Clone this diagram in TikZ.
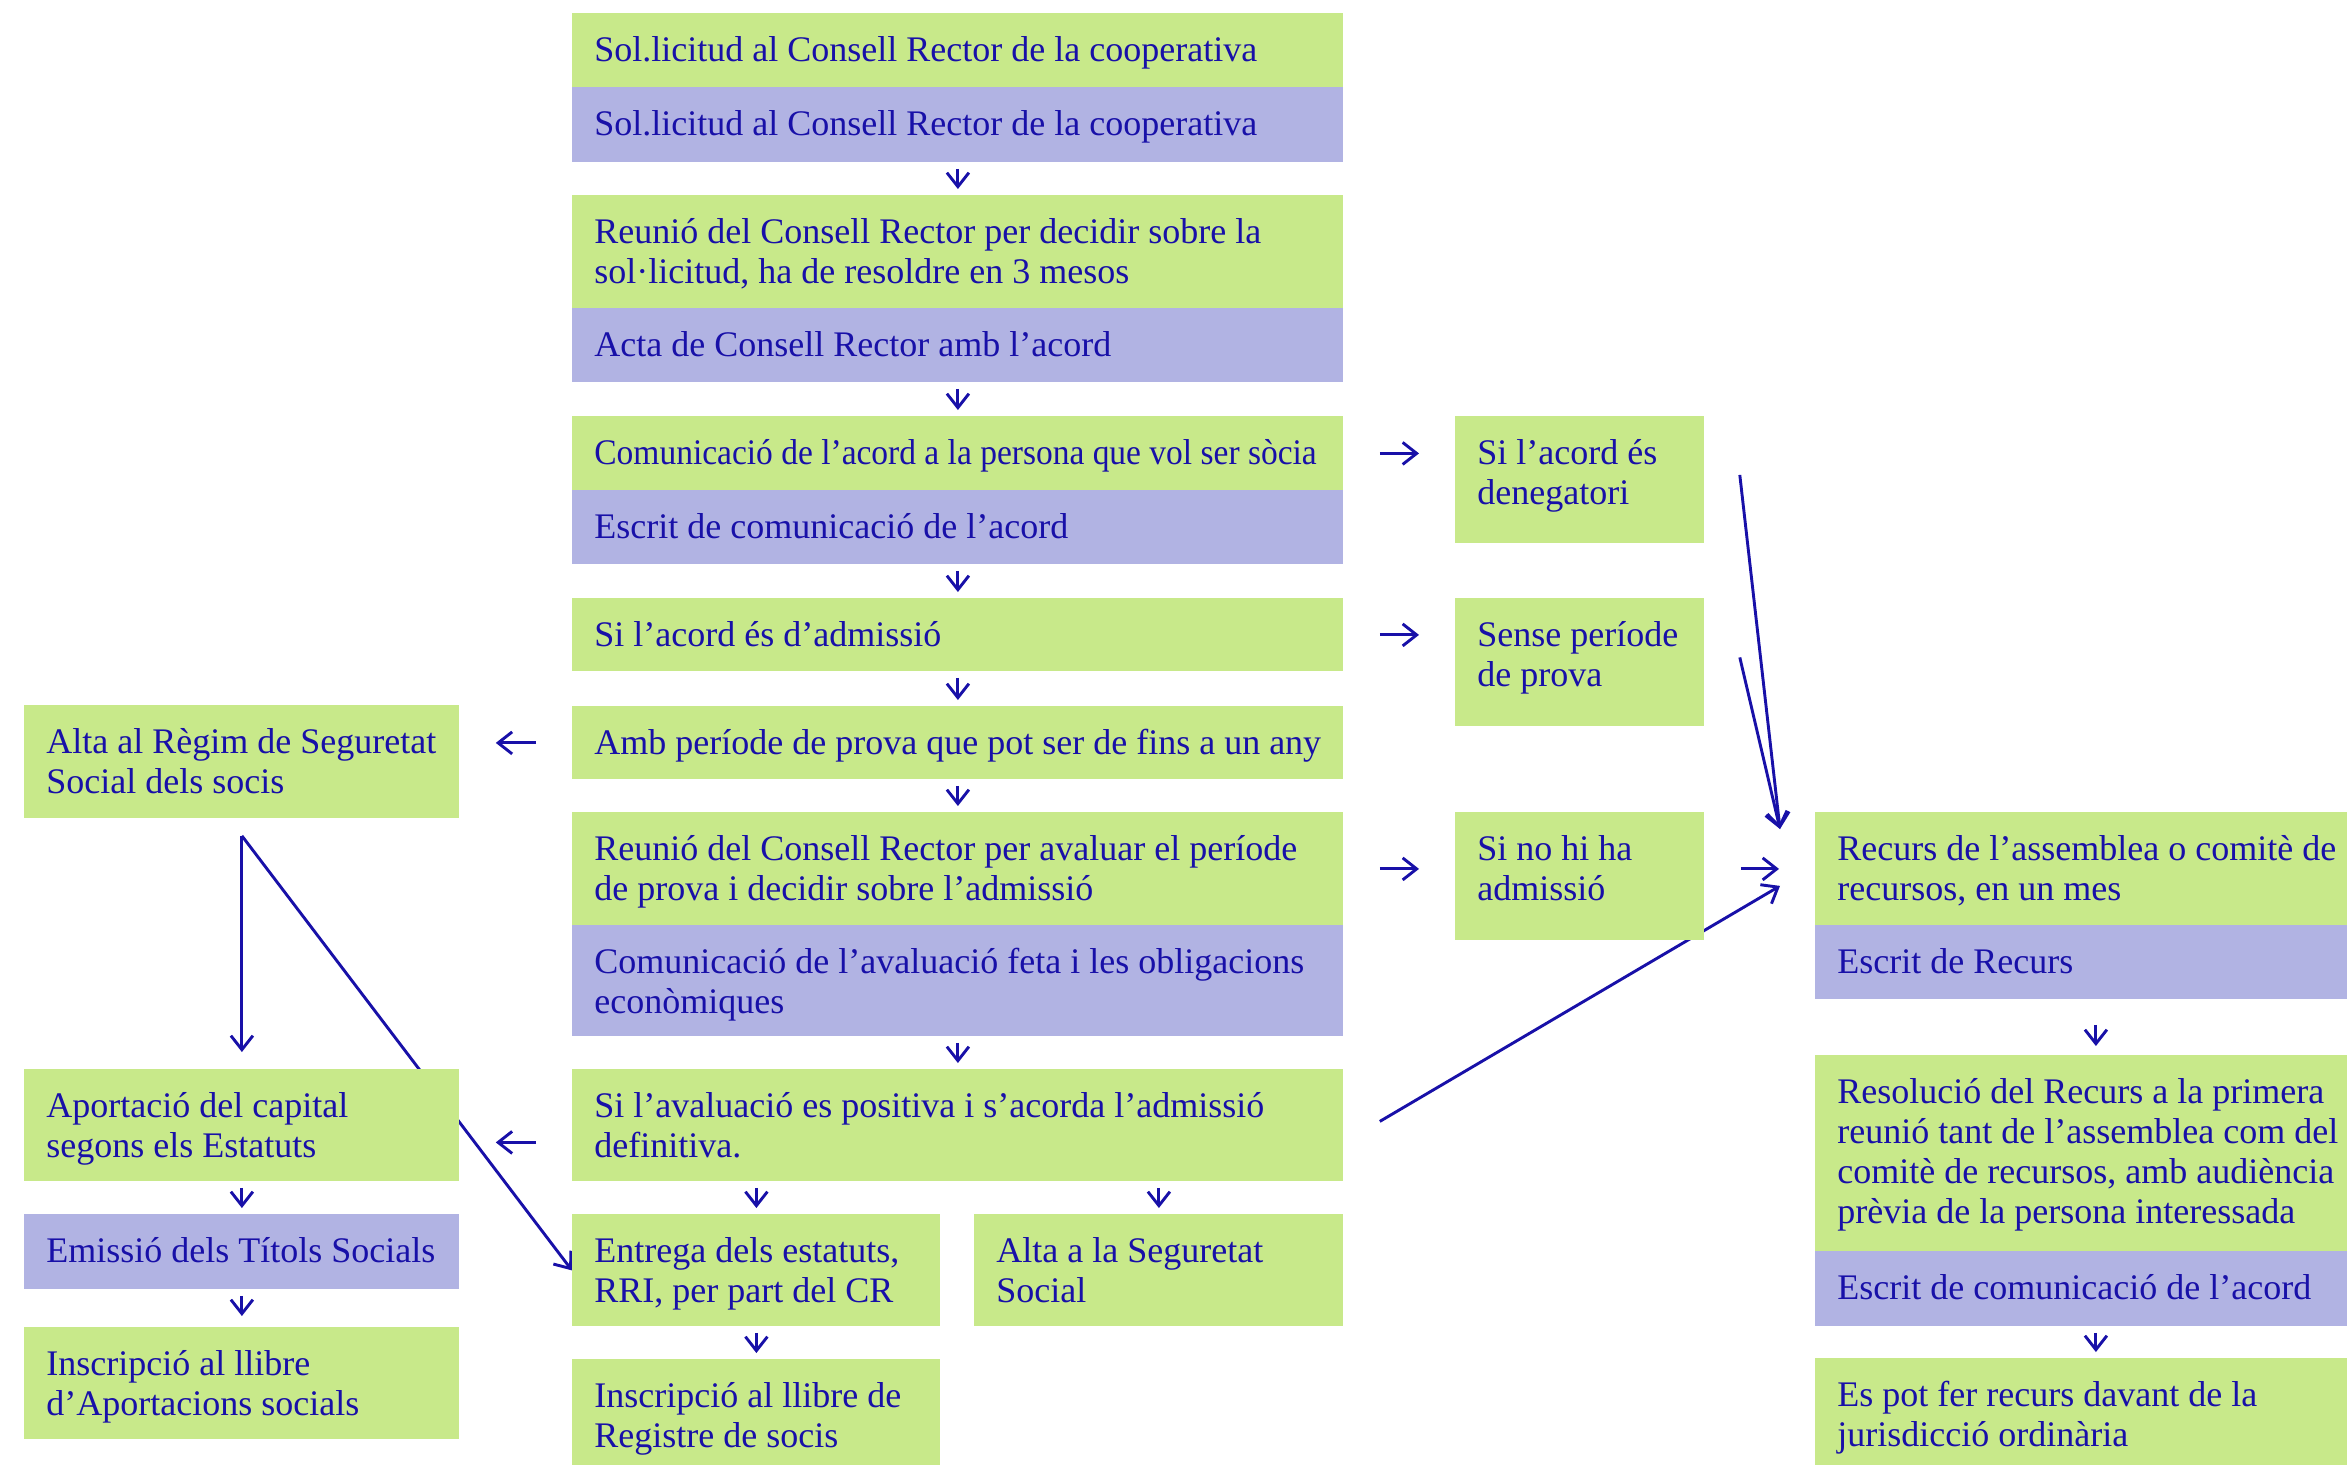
\documentclass[tikz,border=0pt]{standalone}
\usepackage{fontspec}
\setmainfont{Liberation Serif}
\usepackage{graphicx}
\usetikzlibrary{arrows.meta,calc}
\definecolor{ink}{HTML}{1810A8}
\definecolor{grn}{HTML}{C8E98A}
\definecolor{prp}{HTML}{B1B3E3}
\newdimen\pxu \pxu=0.5pt
\newcommand\bx[3]{\parbox[t][#2\pxu][t]{\dimexpr#1\pxu-22pt\relax}{\noindent\begin{tabular}[t]{@{}l@{}}\rule{0pt}{24pt}#3\end{tabular}}}
\pgfdeclarelayer{bg}
\pgfsetlayers{bg,main}
\begin{document}
\begin{tikzpicture}[x=0.5pt,y=-0.5pt,
  font=\fontsize{18}{20}\selectfont, text=ink,
  gb/.style={anchor=north west, inner xsep=11pt, inner ysep=0pt, fill=grn},
  pb/.style={gb, fill=prp},
  con/.style={draw=ink, line width=1.45pt, -{Straight Barb[length=7pt,width=11pt]}},
  dn/.style={con, shorten <=3pt, shorten >=3pt},
  hz/.style={con, shorten <=18pt, shorten >=18pt}]
\useasboundingbox (0,0) rectangle (2347,1464);
\clip (0,0) rectangle (2347,1464);
% central column
\node[gb] (B1g) at (572,13) {\bx{771}{74}{Sol.licitud al Consell Rector de la cooperativa}};
\node[pb] (B1p) at (572,87) {\bx{771}{75}{Sol.licitud al Consell Rector de la cooperativa}};
\node[gb] (B2g) at (572,195) {\bx{771}{113}{Reunió del Consell Rector per decidir sobre la\\sol·licitud, ha de resoldre en 3 mesos}};
\node[pb] (B2p) at (572,308) {\bx{771}{74}{Acta de Consell Rector amb l’acord}};
\node[gb] (B3g) at (572,416) {\bx{771}{74}{\scalebox{0.93}[1]{Comunicació de l’acord a la persona que vol ser sòcia}}};
\node[pb] (B3p) at (572,490) {\bx{771}{74}{Escrit de comunicació de l’acord}};
\node[gb] (B4g) at (572,598) {\bx{771}{73}{Si l’acord és d’admissió}};
\node[gb] (B5g) at (572,706) {\bx{771}{73}{Amb període de prova que pot ser de fins a un any}};
\node[gb] (B6g) at (572,812) {\bx{771}{113}{Reunió del Consell Rector per avaluar el període\\de prova i decidir sobre l’admissió}};
\node[pb] (B6p) at (572,925) {\bx{771}{111}{Comunicació de l’avaluació feta i les obligacions\\econòmiques}};
\node[gb] (B7g) at (572,1069) {\bx{771}{112}{Si l’avaluació es positiva i s’acorda l’admissió\\definitiva.}};
\node[gb] (B8a) at (572,1214) {\bx{368}{112}{Entrega dels estatuts,\\RRI, per part del CR}};
\node[gb] (B8b) at (974,1214) {\bx{369}{112}{Alta a la Seguretat\\Social}};
\node[gb] (B9) at (572,1359) {\bx{368}{113}{Inscripció al llibre de\\Registre de socis}};
% middle right column
\node[gb] (R1) at (1455,416) {\bx{249}{127}{Si l’acord és\\denegatori}};
\node[gb] (R2) at (1455,598) {\bx{249}{128}{Sense període\\de prova}};
\node[gb] (R3) at (1455,812) {\bx{249}{128}{Si no hi ha\\admissió}};
% far right column
\node[gb] (F1g) at (1815,812) {\bx{561}{113}{Recurs de l’assemblea o comitè de\\recursos, en un mes}};
\node[pb] (F1p) at (1815,925) {\bx{561}{74}{Escrit de Recurs}};
\node[gb] (F2g) at (1815,1055) {\bx{561}{196}{Resolució del Recurs a la primera\\reunió tant de l’assemblea com del\\comitè de recursos, amb audiència\\prèvia de la persona interessada}};
\node[pb] (F2p) at (1815,1251) {\bx{561}{75}{Escrit de comunicació de l’acord}};
\node[gb] (F3) at (1815,1358) {\bx{561}{113}{Es pot fer recurs davant de la\\jurisdicció ordinària}};
% left column
\node[gb] (L1) at (24,705) {\bx{435}{113}{Alta al Règim de Seguretat\\Social dels socis}};
\node[gb] (L2) at (24,1069) {\bx{435}{112}{Aportació del capital\\segons els Estatuts}};
\node[pb] (L3) at (24,1214) {\bx{435}{75}{Emissió dels Títols Socials}};
\node[gb] (L4) at (24,1327) {\bx{435}{112}{Inscripció al llibre\\d’Aportacions socials}};
\begin{pgfonlayer}{bg}
\fill[white] (0,0) rectangle (2347,1464);
\draw[dn] (B1p) -- (B2g);
\draw[dn] (B2p) -- (B3g);
\draw[dn] (B3p) -- (B4g);
\draw[dn] (B4g) -- (B5g);
\draw[dn] (B5g) -- (B6g);
\draw[dn] (B6p) -- (B7g);
\draw[dn] (B8a.north |- B7g.south) -- (B8a.north);
\draw[dn] (B8b.north |- B7g.south) -- (B8b.north);
\draw[dn] (B8a) -- (B9);
\draw[hz] (B3g.east) -- (R1.west |- B3g.east);
\draw[hz] (B4g.east) -- (R2.west |- B4g.east);
\draw[hz] (B6g.east) -- (R3.west |- B6g.east);
\draw[hz] (R3.east |- F1g.west) -- (F1g.west);
\draw[hz] (B5g.west) -- (L1.east |- B5g.west);
\draw[hz] ($(B7g.west)+(0,17)$) -- ($(L2.east)+(0,17)$);
\coordinate (ls) at ($(L1.south)+(0,17)$);
\draw[con] (ls) -- ($(L2.north)+(0,-17)$);
\draw[con] (ls) -- (B8a.west);
\draw[dn] (L2) -- (L3);
\draw[dn, shorten >=5.5pt] (L3) -- (L4);
\coordinate (ft1) at ($(F1g.north west)+(-35,17)$);
\coordinate (ft2) at ($(F1g.west)+(-35,17)$);
\draw[con] ($(R1.east)+(35,-5)$) -- (ft1);
\draw[con] ($(R2.east)+(35,-5)$) -- (ft1);
\draw[con] ($(B7g.east)+(36,-4)$) -- (ft2);
\draw[dn, shorten <=12.5pt, shorten >=4.5pt] (F1p) -- (F2g);
\draw[dn] (F2p) -- (F3);
\end{pgfonlayer}
\end{tikzpicture}
\end{document}
